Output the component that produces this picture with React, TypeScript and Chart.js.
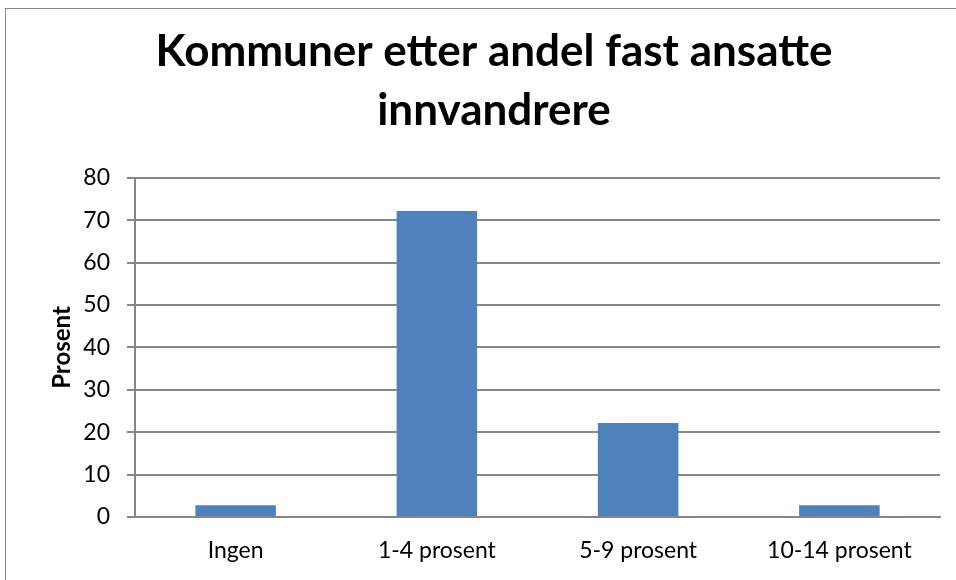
import React, { useEffect, useRef } from "react";
import { Chart, registerables } from "chart.js";

Chart.register(...registerables);

const categories = ["Ingen", "1-4 prosent", "5-9 prosent", "10-14 prosent"];
const values = [2.8, 72.2, 22.2, 2.8];
const titleLines = ["Kommuner etter andel fast ansatte", "innvandrere"];
const yAxisTitle = "Prosent";

const FONT = "Lato, 'Open Sans', sans-serif";

const borderPlugin = {
  id: "outerBorder",
  beforeDraw(chart: any) {
    const { ctx } = chart;
    ctx.save();
    ctx.fillStyle = "#ffffff";
    ctx.fillRect(0, 0, chart.width, chart.height);
    ctx.strokeStyle = "#868686";
    ctx.lineWidth = 1;
    ctx.strokeRect(5.5, 8.5, chart.width + 10, chart.height + 10);
    ctx.restore();
  },
};

export default function App() {
  const ref = useRef<HTMLCanvasElement>(null);
  useEffect(() => {
    if (!ref.current) return;
    const chart = new Chart(ref.current, {
      type: "bar",
      data: {
        labels: categories,
        datasets: [
          {
            data: values,
            backgroundColor: "#4f81bd",
            borderWidth: 0,
            barPercentage: 0.4,
            categoryPercentage: 1,
          },
        ],
      },
      options: {
        animation: false,
        responsive: false,
        maintainAspectRatio: false,
        layout: { padding: { left: 48, right: 16, top: 22, bottom: 14 } },
        plugins: {
          legend: { display: false },
          tooltip: { enabled: false },
          title: {
            display: true,
            text: titleLines,
            color: "#000000",
            font: { family: FONT, size: 44, weight: "bold", lineHeight: 1.34 },
            padding: { top: 0, bottom: 38 },
          },
        },
        scales: {
          x: {
            grid: { display: false, drawTicks: false },
            border: { display: true, color: "#868686", width: 2 },
            ticks: { color: "#000", font: { family: FONT, size: 23 }, padding: 20 },
            afterFit: (scale: any) => {
              scale.height = 49;
            },
          },
          y: {
            min: 0,
            max: 80,
            ticks: { stepSize: 10, color: "#000", font: { family: FONT, size: 23 }, padding: 17 },
            grid: { color: "#868686", lineWidth: 2, tickLength: 8 },
            border: { display: true, color: "#868686", width: 2 },
            title: {
              display: true,
              text: yAxisTitle,
              color: "#000",
              font: { family: FONT, size: 24, weight: "bold" },
              padding: { top: 0, bottom: 7 },
            },
            afterFit: (scale: any) => {
              scale.width = 87;
            },
          },
        },
      },
      plugins: [borderPlugin],
    });
    return () => chart.destroy();
  }, []);
  return (
    <div style={{ position: "fixed", left: 0, top: 0, width: 956, height: 580 }}>
      <canvas ref={ref} width={956} height={580} style={{ display: "block" }} />
    </div>
  );
}
